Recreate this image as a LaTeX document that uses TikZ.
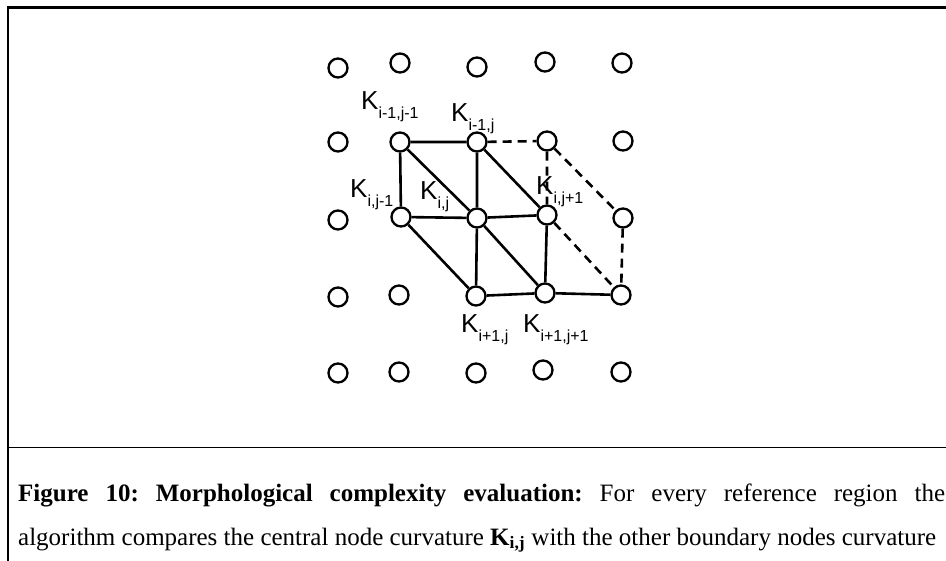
\documentclass[tikz,border=0pt]{standalone}
\usepackage{fontspec}
\setmainfont{Liberation Serif}
\newfontfamily\arialfont{Liberation Sans}
\tikzset{
	grid node/.style={circle, draw, line width=2.3pt, minimum size=19pt, inner sep=0, fill=white},
	link/.style={line width=2.6pt},
	dashlink/.style={line width=2.6pt, dash pattern=on 9pt off 6pt},
	curv label/.style={anchor=base west, inner sep=0, font=\arialfont\fontsize{26}{26}\selectfont}
}
\newcommand{\curv}[1]{K\raisebox{-9pt}{\fontsize{16}{16}\selectfont #1}}

\begin{document}
\begin{tikzpicture}[x=1pt, y=-1pt]
	\useasboundingbox (0,0) rectangle (946,561);
	% frame
	\draw[line width=2.8pt] (8,7.5) -- (946,7.5);
	\draw[line width=1.4pt] (8,6.5) -- (8,561);
	\draw[line width=1.6pt] (8,447.5) -- (946,447.5);
	
	% grid of curvature nodes
	\node[grid node] (n11) at (338,68) {};
	\node[grid node] (n12) at (400,63) {};
	\node[grid node] (n13) at (477,67) {};
	\node[grid node] (n14) at (545,62) {};
	\node[grid node] (n15) at (622,63) {};
	\node[grid node] (n21) at (338,142) {};
	\node[grid node] (n22) at (400,142) {};
	\node[grid node] (n23) at (477,142) {};
	\node[grid node] (n24) at (547,141) {};
	\node[grid node] (n25) at (623,141) {};
	\node[grid node] (n31) at (338,220) {};
	\node[grid node] (n32) at (401,217) {};
	\node[grid node] (n33) at (477,218) {};
	\node[grid node] (n34) at (547,215) {};
	\node[grid node] (n35) at (623,218) {};
	\node[grid node] (n41) at (338,297) {};
	\node[grid node] (n42) at (399,295) {};
	\node[grid node] (n43) at (476,296) {};
	\node[grid node] (n44) at (545,293) {};
	\node[grid node] (n45) at (621,295) {};
	\node[grid node] (n51) at (338,373) {};
	\node[grid node] (n52) at (399,372) {};
	\node[grid node] (n53) at (476,373) {};
	\node[grid node] (n54) at (543,370) {};
	\node[grid node] (n55) at (621,372) {};
	
	\draw[link] (n22) -- (n23) -- (n33) -- (n32) -- (n22) -- (n33);
	\draw[link] (n23) -- (n34) -- (n33) -- (n43) -- (n32);
	\draw[link] (n33) -- (n44) -- (n34);
	\draw[link] (n43) -- (n44) -- (n45);
	\draw[dashlink] (n23) -- (n24) -- (n34);
	\draw[dashlink] (n24) -- (n35) -- (n45);
	\draw[dashlink] (n34) -- (n45);
	
	\node[curv label] (k11) at (361,110) {\curv{i-1,j-1}};
	\node[curv label] (k12) at (451,122) {\curv{i-1,j}};
	\node[curv label] (k21) at (350,198) {\curv{i,j-1}};
	\node[curv label] (k22) at (420,200) {\curv{i,j}};
	\node[curv label] (k23) at (536,195) {\curv{i,j+1}};
	\node[curv label] (k32) at (461,333) {\curv{i+1,j}};
	\node[curv label] (k33) at (523,333) {\curv{i+1,j+1}};
	
	\node[anchor=base west, inner sep=0, text width=927pt, align=justify,
		font=\fontsize{25}{44}\selectfont\frenchspacing] (caption) at (18,501)
		{\makebox[927pt][s]{\textbf{Figure 10: Morphological complexity evaluation:} For every reference region the}\par
		\mbox{algorithm compares the central node curvature \textbf{K\textsubscript{i,j}} with the other boundary nodes curvature}};
\end{tikzpicture}
\end{document}
